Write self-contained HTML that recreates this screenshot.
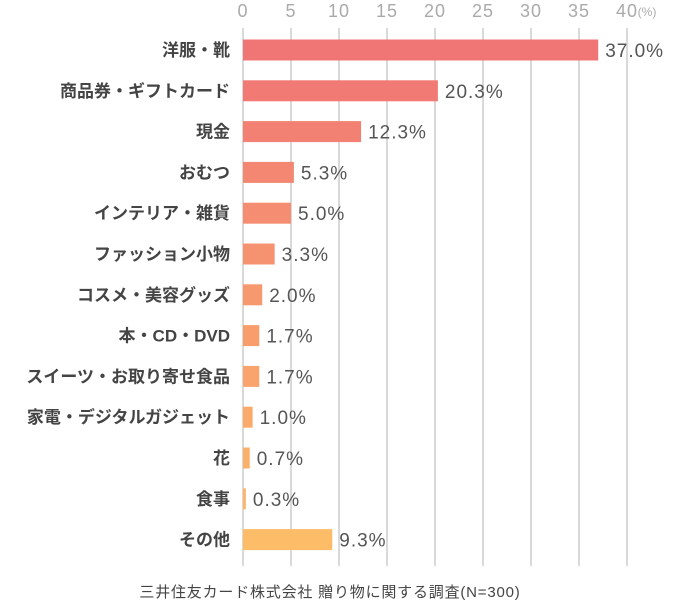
<!DOCTYPE html>
<html><head><meta charset="utf-8"><style>
body{margin:0;background:#fff;}
svg{display:block;font-family:"Liberation Sans","Noto Sans CJK JP",sans-serif;}
</style></head><body>
<svg id="chart" width="681" height="606"></svg>
<script>
const categories=["洋服・靴","商品券・ギフトカード","現金","おむつ","インテリア・雑貨","ファッション小物","コスメ・美容グッズ","本・CD・DVD","スイーツ・お取り寄せ食品","家電・デジタルガジェット","花","食事","その他"];
const values=[37.0,20.3,12.3,5.3,5.0,3.3,2.0,1.7,1.7,1.0,0.7,0.3,9.3];
const ticks=[0,5,10,15,20,25,30,35,40];
const NS="http://www.w3.org/2000/svg";
const svg=document.getElementById('chart');
const x0=243,pxPer=9.6,yTop=50,step=40.8,barH=21;
const xs=v=>x0+v*pxPer;
const ys=i=>yTop+i*step;
function mk(t,a){const e=document.createElementNS(NS,t);for(const k in a)e.setAttribute(k,a[k]);svg.appendChild(e);return e;}
function col(i){const t=i/(categories.length-1);const a=[240,117,117],b=[253,188,104];return `rgb(${a.map((c,j)=>Math.round(c+(b[j]-c)*t)).join(',')})`;}
ticks.forEach(t=>{
 const g=mk('line',{x1:xs(t),x2:xs(t),y1:28,y2:566,stroke:'#d9d9d9','stroke-width':2});
 
 
 const l=mk('text',{x:xs(t),y:17,'text-anchor':'middle','font-size':18,fill:'#aaa','letter-spacing':1});
 l.textContent=t;
 
 
});
const u=mk('text',{x:647,y:16,'text-anchor':'middle','font-size':12,fill:'#aaa'});u.textContent='(%)';


categories.forEach((c,i)=>{
 const y=ys(i);
 const r=mk('rect',{x:x0,y:y-barH/2,width:Math.max(values[i]*pxPer,2),height:barH,fill:col(i)});
 
 
 const lab=mk('text',{x:230,y:y+6,'text-anchor':'end','font-size':17,'font-weight':'bold',fill:'#444'});
 lab.textContent=c;
 
 
 const v=mk('text',{x:xs(values[i])+7,y:y+7,'font-size':19,fill:'#555','letter-spacing':1});
 v.textContent=values[i].toFixed(1)+'%';
 
 
});
const s=mk('text',{x:330,y:597,'text-anchor':'middle','font-size':15,fill:'#444','letter-spacing':0.8});
s.textContent='三井住友カード株式会社 贈り物に関する調査(N=300)';


</script>
</body></html>
